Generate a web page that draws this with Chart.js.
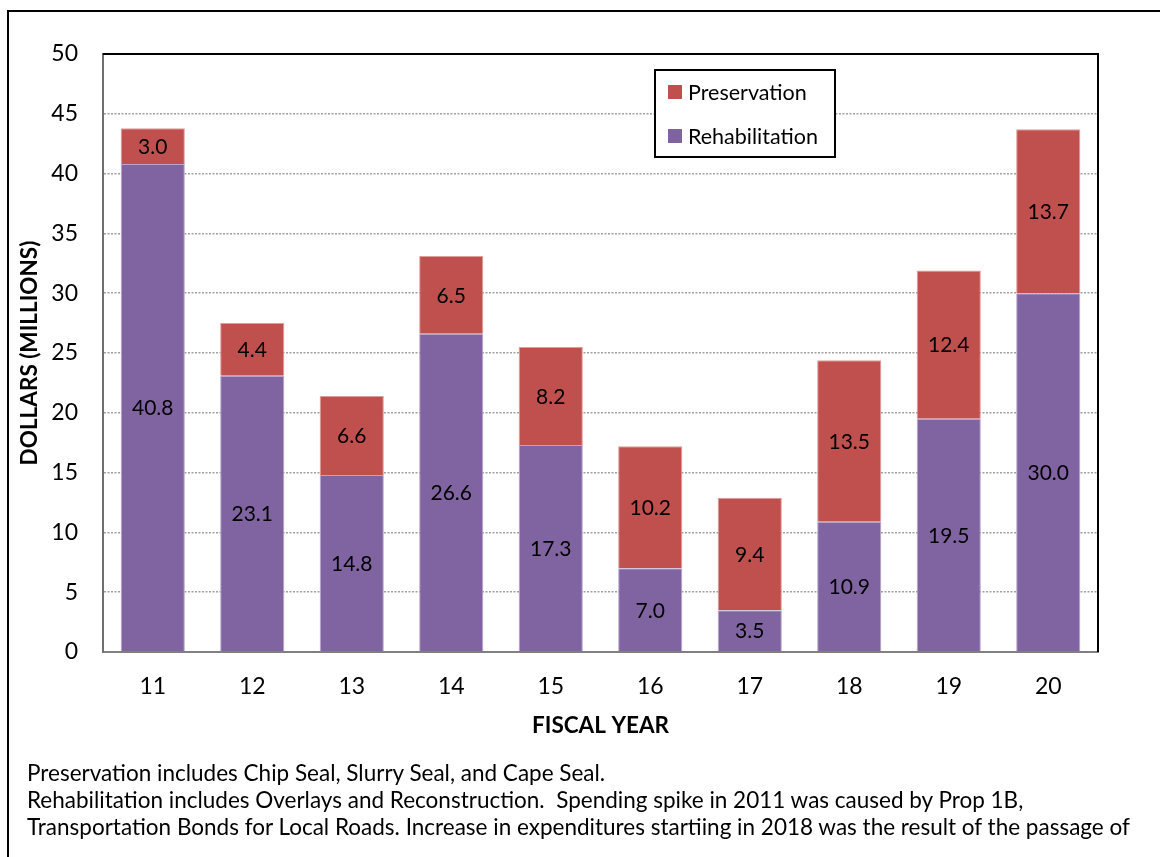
<!DOCTYPE html>
<html>
<head>
<meta charset="utf-8">
<script src="https://cdn.jsdelivr.net/npm/chart.js@4/dist/chart.umd.min.js"></script>
<style>
  html, body { margin: 0; padding: 0; background: #fff; overflow: hidden; }
  #wrap { position: relative; width: 1160px; height: 857px; }
  #frame { position: absolute; left: 7px; top: 10px; width: 1160px; height: 900px;
           border-left: 2px solid #000; border-top: 2px solid #000; }
  #chart { position: absolute; left: 0; top: 0; }
  #notes { position: absolute; left: 27px; top: 759px; font-family: Lato, "Open Sans", sans-serif;
           font-size: 22.5px; line-height: 27px; color: #000; white-space: nowrap; }
</style>
</head>
<body>
<div id="wrap">
  <div id="frame"></div>
  <canvas id="chart" width="1160" height="857"></canvas>
  <div id="notes">
    <div>Preservation includes Chip Seal, Slurry Seal, and Cape Seal.</div>
    <div>Rehabilitation includes Overlays and Reconstruction.&nbsp; Spending spike in 2011 was caused by Prop 1B,</div>
    <div>Transportation Bonds for Local Roads. Increase in expenditures startiing in 2018 was the result of the passage of</div>
  </div>
</div>
<script>
const fiscalYears = ['11', '12', '13', '14', '15', '16', '17', '18', '19', '20'];
const rehabilitation = [40.8, 23.1, 14.8, 26.6, 17.3, 7.0, 3.5, 10.9, 19.5, 30.0];
const preservation = [3.0, 4.4, 6.6, 6.5, 8.2, 10.2, 9.4, 13.5, 12.4, 13.7];
const yTicks = [0, 5, 10, 15, 20, 25, 30, 35, 40, 45, 50];

const FONT = 'Lato, "Open Sans", sans-serif';

// Value labels centred inside each stacked segment
const segmentLabels = {
  id: 'segmentLabels',
  afterDatasetsDraw(chart) {
    const ctx = chart.ctx;
    ctx.save();
    ctx.font = '21px ' + FONT;
    ctx.fillStyle = '#000';
    ctx.textAlign = 'center';
    ctx.textBaseline = 'middle';
    chart.data.datasets.forEach((ds, i) => {
      chart.getDatasetMeta(i).data.forEach((bar, j) => {
        const y = (bar.y + bar.base) / 2;
        ctx.fillText(ds.data[j].toFixed(1), bar.x, y + 1);
      });
    });
    ctx.restore();
  }
};

// Plot frame (top and right edges) and the boxed legend
const frameAndLegend = {
  id: 'frameAndLegend',
  afterDraw(chart) {
    const ctx = chart.ctx;
    const a = chart.chartArea;
    ctx.save();
    ctx.strokeStyle = '#000';
    ctx.lineWidth = 2;
    ctx.beginPath();
    ctx.moveTo(a.left, a.top);
    ctx.lineTo(a.right, a.top);
    ctx.lineTo(a.right, a.bottom);
    ctx.stroke();

    // legend box
    const bx = 655, by = 70, bw = 180, bh = 87;
    ctx.fillStyle = '#fff';
    ctx.fillRect(bx, by, bw, bh);
    ctx.lineWidth = 2;
    ctx.strokeRect(bx, by, bw, bh);
    const order = [1, 0];
    const rows = [92, 136];
    ctx.font = '21.5px ' + FONT;
    ctx.textBaseline = 'middle';
    ctx.textAlign = 'left';
    order.forEach((di, k) => {
      const ds = chart.data.datasets[di];
      ctx.fillStyle = ds.backgroundColor;
      ctx.fillRect(668, rows[k] - 7, 14, 14);
      ctx.fillStyle = '#000';
      ctx.fillText(ds.label, 688, rows[k] + 1);
    });
    ctx.restore();
  }
};

new Chart(document.getElementById('chart'), {
  type: 'bar',
  data: {
    labels: fiscalYears,
    datasets: [
      {
        label: 'Rehabilitation',
        data: rehabilitation,
        backgroundColor: '#8064A2',
        borderColor: '#B7A5CC',
        borderWidth: 1,
        barPercentage: 0.645,
        categoryPercentage: 1
      },
      {
        label: 'Preservation',
        data: preservation,
        backgroundColor: '#C0504D',
        borderColor: '#E09C9A',
        borderWidth: 1,
        barPercentage: 0.645,
        categoryPercentage: 1
      }
    ]
  },
  options: {
    responsive: false,
    animation: false,
    devicePixelRatio: 1,
    layout: { padding: { left: 0, top: 54, right: 62, bottom: 117.5 } },
    plugins: {
      legend: { display: false },
      tooltip: { enabled: false }
    },
    scales: {
      x: {
        stacked: true,
        grid: { display: false, drawTicks: false },
        border: { display: true, color: '#808080', width: 2 },
        ticks: { color: '#000', font: { family: FONT, size: 23 }, padding: 21 },
        title: {
          display: true, text: 'FISCAL YEAR', color: '#000',
          font: { family: FONT, size: 22.5, weight: 'bold' }, padding: { top: 0, bottom: 0 }
        },
        afterFit(s) { s.height = 87.5; }
      },
      y: {
        stacked: true,
        min: 0, max: 50,
        afterBuildTicks(s) { s.ticks = yTicks.map(v => ({ value: v })); },
        grid: { color: '#a0a0a0', lineWidth: 1.5, drawTicks: false },
        border: { display: true, color: '#6f6f6f', width: 2, dash: [2, 1.5] },
        ticks: { color: '#000', font: { family: FONT, size: 23 }, padding: 25 },
        title: {
          display: true, text: 'DOLLARS (MILLIONS)', color: '#000',
          font: { family: FONT, size: 22.5, weight: 'bold' }, padding: { top: 16.5, bottom: 0 }
        },
        afterFit(s) { s.width = 103; }
      }
    }
  },
  plugins: [segmentLabels, frameAndLegend]
});
</script>
</body>
</html>
